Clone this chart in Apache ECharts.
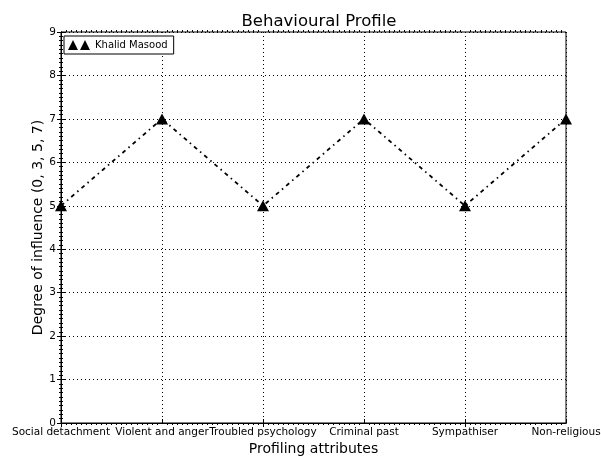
<!DOCTYPE html>
<html>
<head>
<meta charset="utf-8">
<script src="https://cdn.jsdelivr.net/npm/echarts@6/dist/echarts.min.js"></script>
<style>
html, body { margin: 0; padding: 0; background: #fff; }
#chart { width: 601px; height: 456px; }
</style>
</head>
<body>
<div id="chart"></div>
<script>
var categories = ['Social detachment', 'Violent and anger', 'Troubled psychology', 'Criminal past', 'Sympathiser', 'Non-religious'];
var khalidValues = [5, 7, 5, 7, 5, 7];
var yTicks = [0, 9, 1]; // min, max, interval

var font = 'DejaVu Sans, sans-serif';
// two triangles side by side, like the matplotlib legend handle
var twoTriangles = 'path://M0,10 L5,0 L10,10 Z M12,10 L17,0 L22,10 Z';

var chart = echarts.init(document.getElementById('chart'));

var option = {
    backgroundColor: '#fff',
    animation: false,
    title: {
        text: 'Behavioural Profile',
        left: 314,
        top: 8,
        textAlign: 'center',
        textStyle: { fontFamily: font, fontSize: 16.5, fontWeight: 'normal', color: '#000' }
    },
    legend: {
        data: [{ name: 'Khalid Masood', icon: twoTriangles }],
        left: 64,
        top: 36,
        orient: 'vertical',
        itemWidth: 22,
        itemHeight: 11,
        itemGap: 0,
        padding: [4, 6, 4, 4],
        borderColor: '#000',
        borderWidth: 1,
        backgroundColor: '#fff',
        textStyle: { fontFamily: font, fontSize: 10, color: '#000' }
    },
    grid: {
        left: 61,
        right: 35,
        top: 32,
        bottom: 33,
        outerBoundsMode: 'none',
        containLabel: false,
        show: true,
        borderColor: '#000',
        borderWidth: 1
    },
    xAxis: [{
        type: 'category',
        data: categories,
        boundaryGap: false,
        position: 'bottom',
        name: 'Profiling attributes',
        nameLocation: 'middle',
        nameGap: 19,
        nameMoveOverlap: false,
        nameTextStyle: { fontFamily: font, fontSize: 14, color: '#000' },
        axisLine: { lineStyle: { color: '#000' } },
        axisTick: { inside: true, length: 4, lineStyle: { color: '#000' } },
        axisLabel: { fontFamily: font, fontSize: 10.5, color: '#000', margin: 4, interval: 0 },
        splitLine: { show: true, lineStyle: { color: '#000', type: [1, 3], width: 1 } }
    }, {
        type: 'category',
        data: categories,
        boundaryGap: false,
        position: 'top',
        axisLine: { lineStyle: { color: '#000' } },
        axisTick: { inside: true, length: 4, lineStyle: { color: '#000' } },
        axisLabel: { show: false },
        splitLine: { show: false }
    }, {
        type: 'value',
        min: 0, max: 5, interval: 1,
        position: 'bottom',
        axisLine: { show: false },
        axisTick: { show: false, inside: true },
        axisLabel: { show: false },
        splitLine: { show: false },
        minorTick: { show: true, splitNumber: 20, length: -2, lineStyle: { color: '#000' } }
    }, {
        type: 'value',
        min: 0, max: 5, interval: 1,
        position: 'top',
        axisLine: { show: false },
        axisTick: { show: false, inside: true },
        axisLabel: { show: false },
        splitLine: { show: false },
        minorTick: { show: true, splitNumber: 20, length: -2, lineStyle: { color: '#000' } }
    }],
    yAxis: [{
        type: 'value',
        min: yTicks[0],
        max: yTicks[1],
        interval: yTicks[2],
        position: 'left',
        name: 'Degree of influence (0, 3, 5, 7)',
        nameLocation: 'middle',
        nameGap: 16,
        nameMoveOverlap: false,
        nameTextStyle: { fontFamily: font, fontSize: 14, color: '#000' },
        axisLine: { show: true, lineStyle: { color: '#000' } },
        axisTick: { show: true, inside: true, length: 4, lineStyle: { color: '#000' } },
        minorTick: { show: true, splitNumber: 10, length: -2, lineStyle: { color: '#000' } },
        axisLabel: { fontFamily: font, fontSize: 10.5, color: '#000', margin: 5 },
        splitLine: { show: true, lineStyle: { color: '#000', type: [1, 3], width: 1 } }
    }, {
        type: 'value',
        min: yTicks[0],
        max: yTicks[1],
        interval: yTicks[2],
        position: 'right',
        axisLine: { show: true, lineStyle: { color: '#000' } },
        axisTick: { show: true, inside: true, length: 4, lineStyle: { color: '#000' } },
        minorTick: { show: true, splitNumber: 10, length: -2, lineStyle: { color: '#000' } },
        axisLabel: { show: false },
        splitLine: { show: false }
    }],
    series: [{
        name: 'Khalid Masood',
        type: 'line',
        data: khalidValues,
        symbol: 'triangle',
        symbolSize: [12, 11],
        clip: false,
        itemStyle: { color: '#000' },
        lineStyle: { color: '#000', width: 1.8, type: [4, 4, 1.5, 4] },
        z: 10
    }]
};

chart.setOption(option);
</script>
</body>
</html>
